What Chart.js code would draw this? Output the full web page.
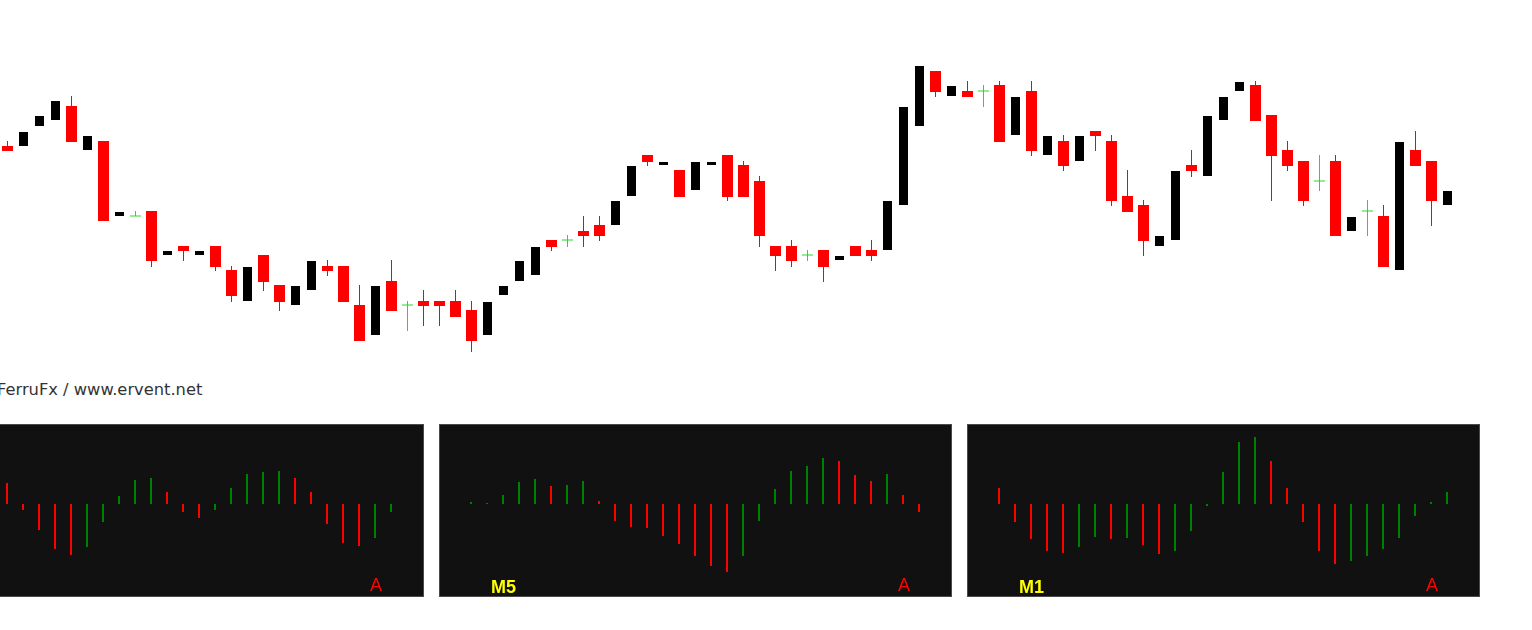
<!DOCTYPE html>
<html>
<head>
<meta charset="utf-8">
<title>FerruFx</title>
<script src="https://cdn.jsdelivr.net/npm/chart.js@4.4.1/dist/chart.umd.min.js"></script>
<style>
    body { margin: 0; background: #fff; width: 1532px; height: 630px; overflow: hidden; position: relative; }
    #priceChart { position: absolute; left: 0; top: 0; }
    .credit { position: absolute; left: -3px; top: 382px; font: 16.3px/16px "DejaVu Sans", sans-serif; color: #333; white-space: nowrap; }
    .panel { position: absolute; top: 424px; width: 511px; height: 171px; background: #111; border: 1px solid #4a4a4a; }
    .panel canvas { position: absolute; left: 0; top: 0; }
    .tf { position: absolute; left: 51px; top: 153px; font: bold 18px/18px "Liberation Sans", Arial, sans-serif; color: #ffff00; }
    .mode { position: absolute; left: 458px; top: 151px; font: 18px/18px "Liberation Sans", Arial, sans-serif; color: #ff0000; }
</style>
</head>
<body>
<canvas id="priceChart" width="1532" height="370"></canvas>
<div class="credit">FerruFx / www.ervent.net</div>
<div id="panels"></div>

<script>
// price candles (points)
const candleOpen = [254,254,274,280,294,250,259,184,184,189,145,154,145,154,130,99,145,115,95,110,134,134,95,65,119,95,99,99,99,90,
    65,105,119,125,160,160,169,175,175,204,245,235,230,210,235,245,235,219,154,154,145,150,140,154,150,150,195,274,329,304,
    309,309,315,265,309,245,259,239,269,259,204,195,154,160,235,224,280,309,315,285,250,239,219,239,169,189,184,130,250,239,195];
const candleHigh = [259,268,284,299,304,264,259,188,189,189,149,154,149,154,134,133,145,115,114,139,140,134,115,114,140,99,110,99,110,99,
    98,114,139,153,160,165,184,184,199,234,245,238,230,238,238,245,239,224,154,160,150,150,144,154,160,199,293,334,329,314,
    319,315,319,303,319,264,265,264,269,265,230,200,164,229,250,284,303,318,319,285,259,239,245,245,183,200,195,258,269,239,209];
const candleLow = [249,254,274,280,258,250,179,184,184,133,145,139,145,129,98,99,109,89,95,110,124,98,59,65,89,69,74,74,83,48,
    65,105,119,125,149,153,153,159,175,204,234,235,203,210,235,199,203,153,129,133,139,118,140,144,139,150,195,274,303,304,
    303,293,258,265,244,245,229,239,249,194,188,144,154,160,223,224,280,309,279,199,229,194,209,164,169,164,133,130,234,174,195];
const candleClose = [249,268,284,299,258,264,179,188,184,139,149,149,149,133,104,133,118,98,114,139,129,98,59,114,89,95,94,94,83,59,
    98,114,139,153,153,160,164,164,199,234,238,238,203,238,238,203,203,164,144,139,145,133,144,144,144,199,293,334,308,314,
    303,309,258,303,249,264,234,264,264,199,188,159,164,229,229,284,303,318,279,244,234,199,219,164,183,189,133,258,234,199,209];

// oscillator panels, one bar per period
const panelValues = [
    [null,null,null,null,21,-6,-26,-45,-51,-43,-18,8,24,26,12,-8,-14,-6,16,30,32,33,26,12,-20,-39,-42,-34,-8],
    [2,1,9,22,25,18,19,23,3,-17,-23,-24,-32,-40,-52,-62,-68,-52,-17,15,33,38,46,43,29,23,30,9,-8],
    [16,-18,-35,-47,-49,-43,-33,-35,-34,-41,-50,-47,-27,-2,32,62,67,43,16,-18,-47,-60,-57,-52,-45,-34,-12,2,12]
];
const panelFirstUp = [false, true, false];
const panelLabels = ['', 'M5', 'M1'];
const panelModes = ['A', 'A', 'A'];

const BEAR = '#ff0000';
const BULL = '#000000';
const DOJI = '#22dd22';

function candleColor(i) {
    if (candleClose[i] < candleOpen[i]) return BEAR;
    if (candleClose[i] > candleOpen[i]) return BULL;
    return DOJI;
}

const flatOptions = (xMin, xMax, yMin, yMax) => ({
    responsive: false,
    animation: false,
    layout: { padding: 0, autoPadding: false },
    plugins: { legend: { display: false }, tooltip: { enabled: false } },
    scales: {
        x: { type: 'linear', display: false, offset: false, min: xMin, max: xMax },
        y: { type: 'linear', display: false, min: yMin, max: yMax }
    }
});

function buildPriceChart() {
    const idx = candleOpen.map((_, i) => i);
    const bars = { type: 'bar', grouped: false, inflateAmount: 0, borderWidth: 0 };

    const wicks = Object.assign({}, bars, {
        data: idx.map(i => ({ x: i, y: [candleLow[i], candleHigh[i]] })),
        backgroundColor: idx.map(candleColor),
        barThickness: 1
    });
    const bearBodies = Object.assign({}, bars, {
        data: idx.filter(i => candleClose[i] < candleOpen[i]).map(i => ({ x: i, y: [candleClose[i], candleOpen[i]] })),
        backgroundColor: BEAR,
        barThickness: 11
    });
    const bullBodies = Object.assign({}, bars, {
        data: idx.filter(i => candleClose[i] > candleOpen[i]).map(i => ({ x: i, y: [candleOpen[i], candleClose[i]] })),
        backgroundColor: BULL,
        barThickness: 9
    });
    const dojis = {
        type: 'scatter',
        data: idx.filter(i => candleClose[i] === candleOpen[i]).map(i => ({ x: i, y: candleOpen[i] })),
        pointStyle: 'line',
        pointRadius: 5.5,
        pointHoverRadius: 5.5,
        borderColor: DOJI,
        borderWidth: 1
    };

    new Chart(document.getElementById('priceChart'), {
        type: 'bar',
        data: { datasets: [wicks, bearBodies, bullBodies, dojis] },
        options: flatOptions(-0.46875, 95.28125, 30, 400)
    });
}

function buildPanel(k) {
    const panel = document.createElement('div');
    panel.className = 'panel';
    panel.style.left = (-89 + 528 * k) + 'px';
    panel.innerHTML = '<canvas width="511" height="171"></canvas>' +
        '<div class="tf">' + panelLabels[k] + '</div>' +
        '<div class="mode">' + panelModes[k] + '</div>';
    document.getElementById('panels').appendChild(panel);

    const values = panelValues[k];
    const colors = values.map((v, i) => {
        const prev = values[i - 1];
        const up = (prev === null || prev === undefined) ? panelFirstUp[k] : v > prev;
        return up ? '#008000' : '#ff0000';
    });

    new Chart(panel.querySelector('canvas'), {
        type: 'bar',
        data: {
            datasets: [{
                data: values.map((v, i) => ({ x: i, y: v })),
                backgroundColor: colors,
                barThickness: 2,
                grouped: false,
                inflateAmount: 0,
                borderWidth: 0
            }]
        },
        options: flatOptions(-1.9375, 30, -92, 79)
    });
}

document.addEventListener('DOMContentLoaded', function() {
    buildPriceChart();
    [0, 1, 2].forEach(buildPanel);
});
</script>
</body>
</html>
